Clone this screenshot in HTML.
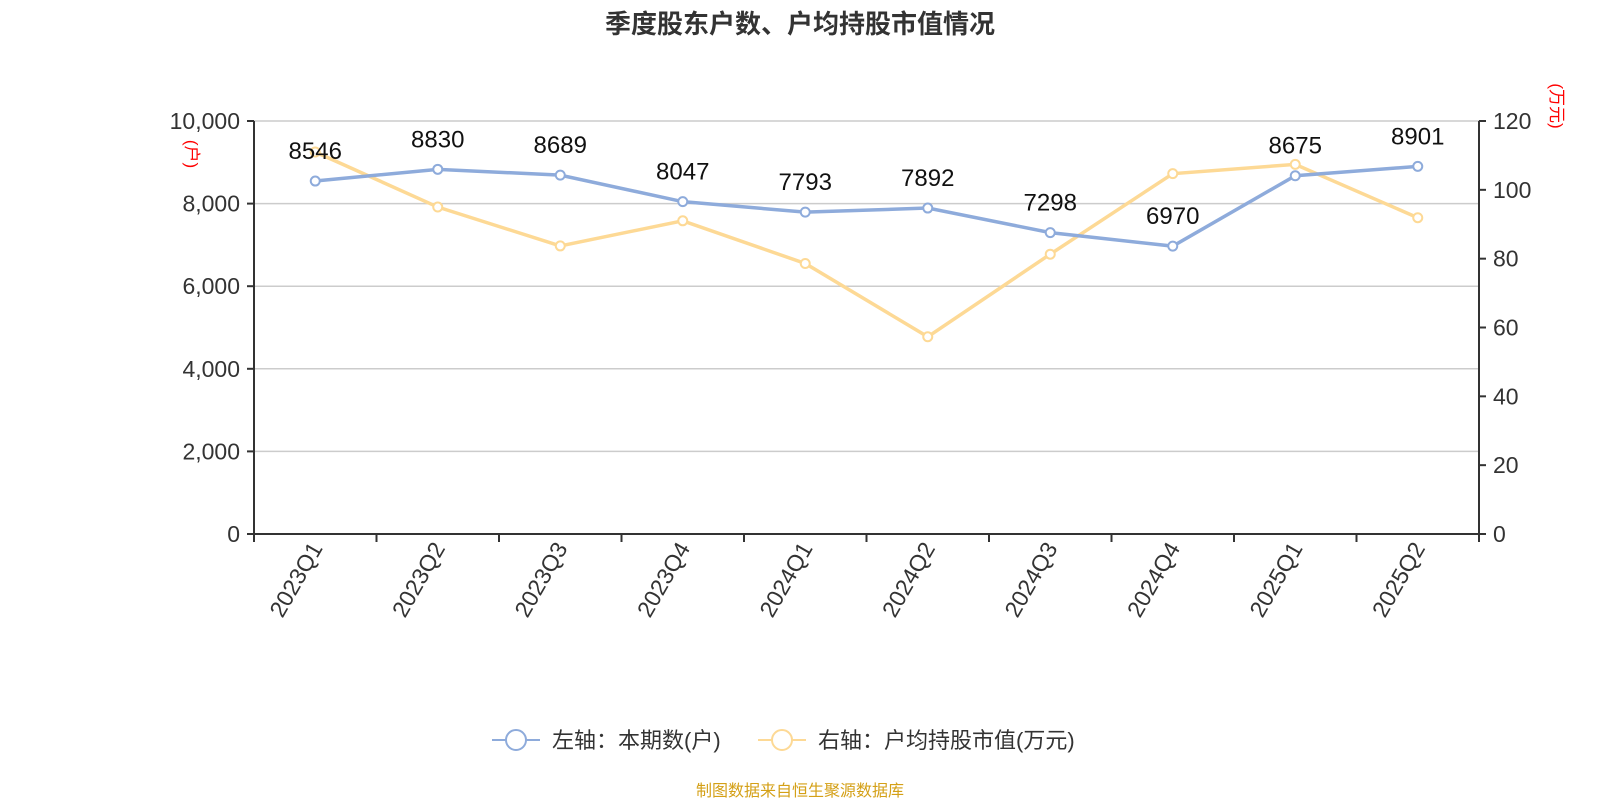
<!DOCTYPE html>
<html><head><meta charset="utf-8"><style>
body{margin:0;background:#fff;}
svg{display:block;font-family:"Liberation Sans","Noto Sans CJK SC",sans-serif;}
</style></head><body>
<svg id="chart" width="1600" height="800">
<text x="800" y="33" text-anchor="middle" font-size="26" font-weight="bold" fill="#333">季度股东户数、户均持股市值情况</text>
<g id="grid"></g><g id="axes"></g><g id="series"></g>
<text transform="translate(186,154) rotate(90)" text-anchor="middle" font-size="17" fill="red">(户)</text>
<text transform="translate(1551,106) rotate(90)" text-anchor="middle" font-size="17" fill="red">(万元)</text>
<g>
<g>
<line x1="492" y1="740" x2="540" y2="740" stroke="#8eabdb" stroke-width="2"/>
<circle cx="516" cy="740" r="10" fill="#fff" stroke="#8eabdb" stroke-width="2"/>
<text x="552" y="748" font-size="22" fill="#333">左轴：本期数(户)</text></g>
<g>
<line x1="758" y1="740" x2="806" y2="740" stroke="#fdd995" stroke-width="2"/>
<circle cx="782" cy="740" r="10" fill="#fff" stroke="#fdd995" stroke-width="2"/>
<text x="818" y="748" font-size="22" fill="#333">右轴：户均持股市值(万元)</text></g>
</g>
<text x="800" y="796" text-anchor="middle" font-size="16" fill="#d4a017">制图数据来自恒生聚源数据库</text>
</svg>
<script>
const categories=["2023Q1","2023Q2","2023Q3","2023Q4","2024Q1","2024Q2","2024Q3","2024Q4","2025Q1","2025Q2"];
const households=[8546,8830,8689,8047,7793,7892,7298,6970,8675,8901];
const avgValue=[111,95,83.7,91,78.6,57.3,81.3,104.7,107.4,91.9];
const leftTicks=[0,2000,4000,6000,8000,10000];
const rightTicks=[0,20,40,60,80,100,120];
const L=254,R=1479,T=121,B=534;
const NS="http://www.w3.org/2000/svg";
const step=(R-L)/categories.length;
const xS=i=>L+step*(i+0.5);
const yL=v=>B-(v/10000)*(B-T);
const yR=v=>B-(v/120)*(B-T);
function mk(tag,attrs,parent,txt){const e=document.createElementNS(NS,tag);for(const k in attrs)e.setAttribute(k,attrs[k]);if(txt!==undefined)e.textContent=txt;parent.appendChild(e);return e;}
const grid=document.getElementById('grid'),axes=document.getElementById('axes'),ser=document.getElementById('series');
leftTicks.forEach(v=>{
 if(v>0){const g=mk('line',{x1:L,x2:R,y1:yL(v),y2:yL(v),stroke:'#ccc','stroke-width':1.5},grid);
 
 }
 mk('line',{x1:L-7,x2:L,y1:yL(v),y2:yL(v),stroke:'#333','stroke-width':2},axes);
 const t=mk('text',{x:L-14,y:yL(v)+8,'text-anchor':'end','font-size':23,fill:'#333'},axes,v.toLocaleString('en-US'));
 
 
});
rightTicks.forEach(v=>{
 mk('line',{x1:R,x2:R+7,y1:yR(v),y2:yR(v),stroke:'#333','stroke-width':2},axes);
 const t=mk('text',{x:R+14,y:yR(v)+8,'font-size':23,fill:'#333'},axes,v);
 
 
});
mk('line',{x1:L,x2:L,y1:T,y2:B+8,stroke:'#333','stroke-width':2},axes);
mk('line',{x1:R,x2:R,y1:T,y2:B+8,stroke:'#333','stroke-width':2},axes);
mk('line',{x1:L,x2:R,y1:B,y2:B,stroke:'#333','stroke-width':2},axes);
categories.forEach((c,i)=>{
 mk('line',{x1:L+step*i,x2:L+step*i,y1:B,y2:B+8,stroke:'#333','stroke-width':2},axes);
 const t=mk('text',{transform:`translate(${xS(i)+8},${B+14}) rotate(-60)`,'text-anchor':'end','font-size':23,fill:'#333'},axes,c);
 
 
});
function line(vals,yf,color,name){
 const p=mk('polyline',{points:vals.map((v,i)=>xS(i)+','+yf(v)).join(' '),fill:'none',stroke:color,'stroke-width':3.5},ser);
 
 
 vals.forEach((v,i)=>{const c=mk('circle',{cx:xS(i),cy:yf(v),r:4.5,fill:'#fff',stroke:color,'stroke-width':2},ser);
 
 });
}
line(avgValue,yR,'#fdd995','avg-value');
line(households,yL,'#8eabdb','households');
households.forEach((v,i)=>{const t=mk('text',{x:xS(i),y:yL(v)-22,'text-anchor':'middle','font-size':24,fill:'#111'},ser,v);
 
 });
</script>
</body></html>
